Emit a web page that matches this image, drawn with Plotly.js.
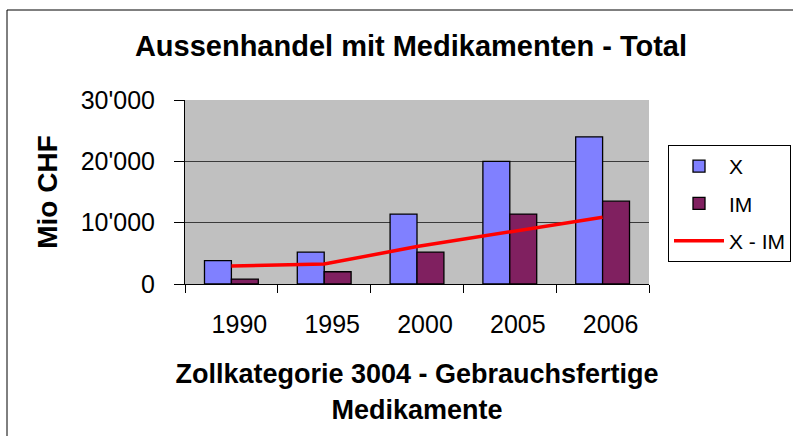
<!DOCTYPE html>
<html>
<head>
<meta charset="utf-8">
<script src="https://cdn.plot.ly/plotly-3.0.1.min.js"></script>
<style>
  html, body { margin: 0; padding: 0; background: #fff; }
  #chart { width: 793px; height: 436px; }
</style>
</head>
<body>
<div id="chart"></div>
<script>
const years = ['1990', '1995', '2000', '2005', '2006'];
const exportsX = [3800, 5200, 11400, 20000, 24000];
const importsIM = [800, 2000, 5200, 11400, 13500];
const balance = [2950, 3250, 6100, 8550, 10900];
const yTicks = [0, 10000, 20000, 30000];

const FONT = 'Liberation Sans, Arial, sans-serif';

const traces = [
  {
    type: 'bar', name: 'X', x: years, y: exportsX, legendgroup: 'a',
    marker: { color: '#8080FF', line: { color: '#000000', width: 1.3 } }
  },
  {
    type: 'bar', name: 'IM', x: years, y: importsIM, legendgroup: 'b',
    marker: { color: '#802060', line: { color: '#000000', width: 1.3 } }
  },
  {
    type: 'scatter', mode: 'lines', name: 'X - IM', x: years, y: balance, legendgroup: 'c',
    line: { color: '#FF0000', width: 3.5 }
  }
];

const layout = {
  width: 793, height: 436,
  margin: { l: 185, r: 144, t: 100, b: 152, autoexpand: false },
  paper_bgcolor: '#FFFFFF',
  plot_bgcolor: '#C0C0C0',
  separators: ".'",
  barmode: 'group',
  bargap: 0.42,
  bargroupgap: 0,
  font: { family: FONT, color: '#000000', size: 25 },
  title: {
    text: '<b>Aussenhandel mit Medikamenten - Total</b>',
    font: { family: FONT, size: 29, color: '#000' },
    xref: 'paper', x: 0.487, xanchor: 'center',
    yref: 'container', y: 1 - 46 / 436, yanchor: 'middle'
  },
  xaxis: {
    type: 'category',
    showline: true, linecolor: '#000', linewidth: 1,
    ticks: 'outside', tickson: 'boundaries', ticklen: 8, tickcolor: '#000',
    showgrid: false,
    tickfont: { family: FONT, size: 25 },
    ticklabelshift: 8,
    ticklabelstandoff: 18,
    title: {
      text: '<b>Zollkategorie 3004 - Gebrauchsfertige<br>Medikamente</b>',
      font: { family: FONT, size: 27 },
      standoff: 27
    }
  },
  yaxis: {
    range: [0, 30000],
    tickvals: yTicks,
    tickformat: ',',
    showline: true, linecolor: '#000', linewidth: 1,
    ticks: 'outside', ticklen: 10, tickcolor: '#000',
    ticklabelstandoff: 14,
    showgrid: true, gridcolor: '#3a3a3a', gridwidth: 1,
    zeroline: false,
    tickfont: { family: FONT, size: 25 },
    title: {
      text: '<b>Mio CHF</b>',
      font: { family: FONT, size: 28 },
      standoff: 14
    }
  },
  legend: {
    x: (668 - 185) / 464, xanchor: 'left',
    y: (284 - 145) / 184, yanchor: 'top',
    bgcolor: '#FFFFFF', bordercolor: '#000', borderwidth: 1,
    font: { family: FONT, size: 21 },
    itemwidth: 50,
    tracegroupgap: 7
  },
  shapes: [
    {
      type: 'rect', xref: 'paper', yref: 'paper',
      x0: (7 - 185) / 464, x1: (810 - 185) / 464,
      y0: (284 - 450) / 184, y1: (284 - 10) / 184,
      line: { color: '#000', width: 1 }, fillcolor: 'rgba(0,0,0,0)', layer: 'below'
    }
  ],
  showlegend: true
};

Plotly.newPlot('chart', traces, layout, { displayModeBar: false, staticPlot: true });
</script>
</body>
</html>
